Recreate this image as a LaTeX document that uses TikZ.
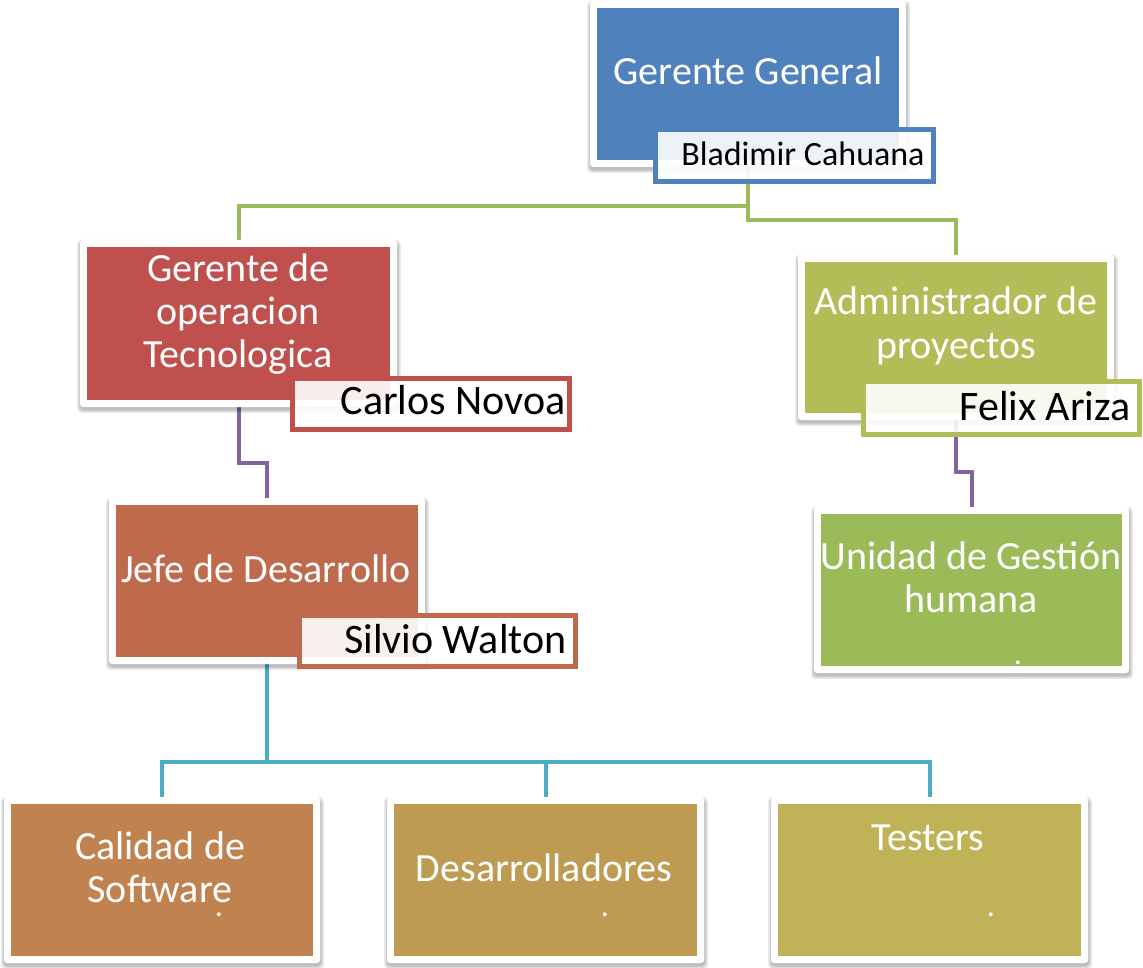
\documentclass[tikz,border=0pt]{standalone}
\usepackage{fontspec}
\setmainfont{Carlito}
\usetikzlibrary{fit,backgrounds}
\definecolor{cblue}{HTML}{4F81BD}
\definecolor{cred}{HTML}{C0504D}
\definecolor{cjefe}{HTML}{C06A4D}
\definecolor{ccal}{HTML}{C0834F}
\definecolor{cdes}{HTML}{BE9B53}
\definecolor{ctes}{HTML}{C0B257}
\definecolor{cadm}{HTML}{B3BD58}
\definecolor{cuni}{HTML}{9BBB59}
\definecolor{lgreen}{HTML}{9BBB59}
\definecolor{lpurple}{HTML}{8064A2}
\definecolor{lcyan}{HTML}{4BACC6}
\tikzset{
  frame/.style={fill=white, rounded corners=1.5pt, inner sep=3.5pt},
  softshadow/.style={fill=black, opacity=0.07, rounded corners=2pt},
  boxfill/.style={inner sep=0pt, fill=#1},
  lbl/.style={draw=#1, line width=2.5pt, fill=white, fill opacity=0.9, inner sep=0pt},
  title/.style={text=white, align=center, anchor=base, inner sep=0pt,
    font=\fontsize{20}{21.5}\selectfont},
  pname/.style={text=black, anchor=base east, inner sep=0pt,
    font=\fontsize{21}{24}\selectfont},
  dotmark/.style={text=white, anchor=base, inner sep=0pt, font=\fontsize{16}{16}\selectfont},
  conn/.style={draw=#1, line width=2pt}
}
\newcommand\orgbox[6]{%
  \foreach \s in {0,1,2,3}{%
    \fill[softshadow] (#2-7-\s,#3-4-\s) rectangle (#4+8+\s,#5+10+\s);}
  \node[frame, fit={(#2,#3)(#4,#5)}] {};
  \node[boxfill=#6, fit={(#2,#3)(#4,#5)}] (#1) {};
}
\begin{document}
\begin{tikzpicture}[x=0.5pt,y=-0.5pt]
\useasboundingbox (0,0) rectangle (1143,967);
% boxes
\orgbox{gg}{597}{8}{899}{160}{cblue}
\orgbox{gto}{87}{247}{390}{400}{cred}
\orgbox{jd}{116}{505}{418}{657}{cjefe}
\orgbox{ap}{805}{262}{1107}{413}{cadm}
\orgbox{ug}{821}{514}{1122}{666}{cuni}
\orgbox{cs}{11}{804}{313}{956}{ccal}
\orgbox{de}{394}{804}{697}{956}{cdes}
\orgbox{te}{778}{804}{1081}{956}{ctes}
% name labels
\node[lbl=cblue, fit={(655.5,129.5)(933.5,181.5)}] (bcl) {};
\node[lbl=cred, fit={(292.5,378.5)(569.5,429.5)}] (cnl) {};
\node[lbl=cjefe, fit={(299.5,615.5)(575.5,666.5)}] (swl) {};
\node[lbl=cadm, fit={(863.5,381.5)(1139.5,434.5)}] (fal) {};
% titles (anchor = baseline of last line)
\node[title] (ggt) at (748,85) {Gerente General};
\node[title] (gtot) at (238,368) {Gerente de\\operacion\\Tecnologica};
\node[title] (jdt) at (266,582) {Jefe de Desarrollo};
\node[title] (apt) at (956,358) {Administrador de\\proyectos};
\node[title] (ugt) at (971,612) {Unidad de Gestión\\humana};
\node[title] (cst) at (160,902) {Calidad de\\Software};
\node[title] (det) at (544,881) {Desarrolladores};
\node[title] (tet) at (928,850) {Testers};
% dots
\node[dotmark] (d1) at (219,916) {.};
\node[dotmark] (d2) at (605,916) {.};
\node[dotmark] (d3) at (991,916) {.};
\node[dotmark] (d4) at (1018,664) {.};
% names
\node[pname, font=\fontsize{17}{20}\selectfont] (bcn) at (925,166) {Bladimir Cahuana};
\node[pname] (cnn) at (566,415) {Carlos Novoa};
\node[pname] (swn) at (567,653) {Silvio Walton};
\node[pname] (fan) at (1131,420) {Felix Ariza};
% connectors
\begin{pgfonlayer}{background}
\draw[conn=lgreen] (gg.south) -- ++(0,46) -| (gto.north);
\draw[conn=lgreen] (gg.south) ++(0,46) -- ++(0,14) -| (ap.north);
\draw[conn=lpurple] (gto.south) -- ++(0,63) -| (jd.north);
\draw[conn=lpurple] (ap.south) -- ++(0,59) -| (ug.north);
\draw[conn=lcyan] (jd.south) -- ++(0,105) -| (cs.north);
\draw[conn=lcyan] (jd.south) ++(0,105) -| (de.north);
\draw[conn=lcyan] (jd.south) ++(0,105) -| (te.north);
\end{pgfonlayer}
\end{tikzpicture}
\end{document}
